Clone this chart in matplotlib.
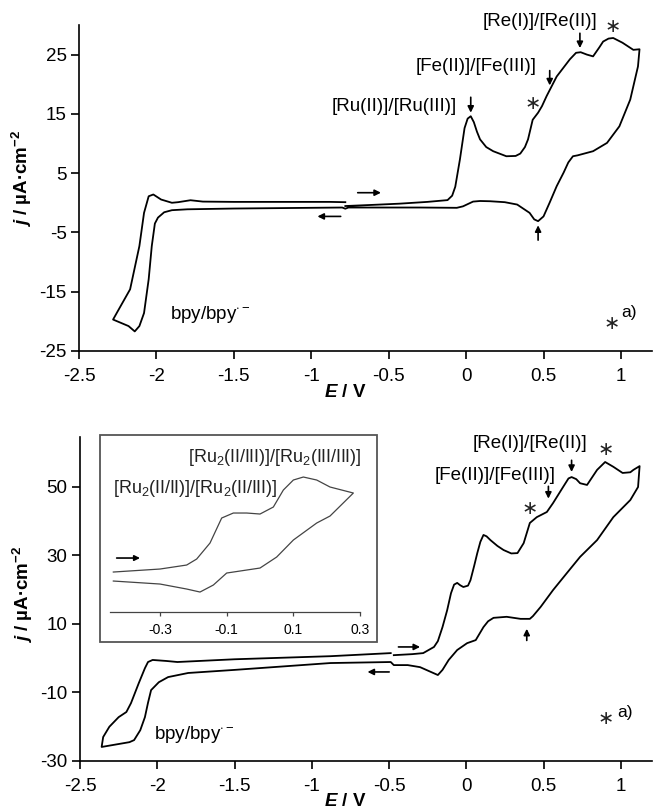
import matplotlib
matplotlib.use('agg')
import matplotlib.pyplot as plt
from matplotlib.patches import Rectangle

plt.rcParams['font.family'] = ['Liberation Sans', 'DejaVu Sans']
plt.rcParams['mathtext.fontset'] = 'custom'
plt.rcParams['mathtext.rm'] = 'Liberation Sans'
plt.rcParams['mathtext.it'] = 'Liberation Sans:italic'
plt.rcParams['mathtext.bf'] = 'Liberation Sans:bold'
plt.rcParams['mathtext.bfit'] = 'Liberation Sans:bold:italic'
plt.rcParams['axes.unicode_minus'] = False
plt.rcParams['lines.solid_joinstyle'] = 'round'

# ---- data: panel a (top), one closed CV loop starting at -0.78 V ----
e_top = [-0.78, -0.6, -0.43, -0.25, -0.12, -0.09, -0.07, -0.04, -0.01, 0.01, 0.03, 0.05, 0.07, 0.09, 0.13,
         0.175, 0.26, 0.32, 0.35, 0.38, 0.40, 0.43, 0.465, 0.49, 0.52, 0.585, 0.67, 0.71, 0.74, 0.78,
         0.82, 0.86, 0.885, 0.92, 0.95, 1.01, 1.08, 1.12,
         1.11, 1.06, 0.99, 0.91, 0.82, 0.72, 0.69, 0.66, 0.63, 0.585, 0.54, 0.50, 0.465, 0.44, 0.41,
         0.33, 0.25, 0.155, 0.09, 0.045, -0.02, -0.06, -0.3, -0.6, -0.76, -0.78, -0.80, -1.0, -1.5,
         -1.8, -1.9, -1.95, -1.99, -2.01, -2.03, -2.05, -2.08, -2.11, -2.14, -2.18, -2.28,
         -2.25, -2.17, -2.11, -2.08, -2.05, -2.02, -1.97, -1.9, -1.86, -1.78, -1.7, -1.5, -1.2,
         -0.88, -0.78]
j_top = [-0.55, -0.35, -0.15, 0.15, 0.45, 1.2, 2.7, 7.3, 12.6, 14.2, 14.6, 13.6, 12.0, 10.7, 9.4,
         8.7, 7.85, 7.9, 8.3, 9.4, 10.7, 14.0, 15.2, 16.3, 18.0, 21.3, 24.2, 25.3, 25.4, 25.0,
         24.7, 26.2, 27.2, 27.7, 27.8, 27.0, 25.8, 25.9,
         23.0, 17.4, 12.9, 10.1, 8.7, 8.0, 7.85, 6.8, 5.1, 2.8, 0.05, -2.3, -3.1, -2.8, -1.7,
         -0.3, 0.1, 0.26, 0.3, 0.2, -0.6, -0.85, -0.8, -0.8, -0.8, -1.0, -0.8, -0.85, -0.97,
         -1.1, -1.25, -1.6, -2.5, -3.5, -7.3, -12.9, -18.6, -20.8, -21.7, -20.8, -19.7,
         -18.3, -14.6, -7.3, -1.7, 1.1, 1.4, 0.55, 0.0, 0.1, 0.43, 0.2, 0.15, 0.15,
         0.15, 0.1]

# ---- data: panel b (bottom), loop starting at -0.47 V ----
e_bot = [-0.47, -0.35, -0.28, -0.21, -0.185, -0.155, -0.125, -0.1, -0.08, -0.06, -0.04, -0.02,
         0.01, 0.026, 0.05, 0.07, 0.09, 0.11, 0.13, 0.155, 0.2, 0.24, 0.29, 0.33, 0.37, 0.41,
         0.455, 0.52, 0.56, 0.625, 0.66, 0.68, 0.71, 0.735, 0.78, 0.845, 0.897, 0.95, 1.01,
         1.06, 1.08, 1.12,
         1.11, 1.06, 0.95, 0.845, 0.735, 0.65, 0.56, 0.48, 0.43, 0.41, 0.35, 0.26, 0.175, 0.14,
         0.11, 0.06, 0.004, -0.06, -0.115, -0.155, -0.185, -0.23, -0.3, -0.38, -0.47, -0.49,
         -0.88, -1.5, -1.8, -1.93, -1.99, -2.04, -2.06, -2.08, -2.11, -2.15, -2.18, -2.27, -2.36,
         -2.35, -2.31, -2.25, -2.2, -2.17, -2.12, -2.08, -2.06, -2.03, -1.94, -1.87, -1.5,
         -0.88, -0.49]
j_bot = [0.9, 1.2, 1.5, 3.3, 5.0, 9.1, 14.0, 19.0, 21.5, 22.0, 21.3, 20.8,
         21.2, 22.8, 27.0, 30.7, 34.0, 36.0, 35.6, 34.5, 32.8, 31.6, 30.6, 30.7, 33.6, 39.5,
         41.2, 42.7, 45.3, 50.0, 52.5, 52.9, 52.3, 51.1, 50.6, 55.0, 57.3, 55.9, 54.1,
         54.3, 55.0, 56.1,
         50.0, 46.2, 41.2, 34.5, 29.6, 24.9, 19.9, 15.0, 12.3, 11.5, 11.5, 12.1, 11.8, 10.8,
         9.1, 5.3, 4.4, 2.4, -0.5, -3.4, -4.9, -4.0, -2.6, -2.0, -2.0, -1.1,
         -1.4, -3.4, -4.3, -5.5, -7.0, -9.3, -13.0, -17.2, -21.0, -23.9, -24.5, -25.2, -25.9,
         -23.0, -20.0, -17.2, -15.7, -13.1, -7.3, -2.9, -1.1, -0.5, -0.8, -1.1, -0.3,
         0.6, 1.5]

# ---- data: inset (arbitrary current units) ----
e_ins = [-0.44, -0.3, -0.22, -0.19, -0.15, -0.115, -0.08, -0.04, 0.0, 0.04, 0.07, 0.1, 0.13,
         0.17, 0.21, 0.28,
         0.21, 0.17, 0.1, 0.05, 0.0, -0.06, -0.1, -0.14, -0.18, -0.22, -0.3, -0.44]
j_ins = [4.0, 4.3, 4.7, 5.3, 6.9, 9.4, 9.9, 9.9, 9.8, 10.5, 12.2, 13.2, 13.5,
         13.2, 12.5, 11.9,
         9.6, 8.9, 7.2, 5.5, 4.4, 4.1, 3.9, 2.7, 2.0, 2.3, 2.8, 3.1]

xticks = [-2.5, -2, -1.5, -1, -0.5, 0, 0.5, 1]
xticklabels = ['-2.5', '-2', '-1.5', '-1', '-0.5', '0', '0.5', '1']
yticks_top = [-25, -15, -5, 5, 15, 25]
yticks_bot = [-30, -10, 10, 30, 50]
ins_ticks = [-0.3, -0.1, 0.1, 0.3]

FS = 13.5
YLABEL = r'$\mathbfit{j}$ / µA·cm$^{\mathbf{-2}}$'
XLABEL = r'$\mathbfit{E}$ / V'


def style_axes(ax, yticks, ylim, ylab_y):
    ax.set_xlim(-2.5, 1.2)
    ax.set_ylim(*ylim)
    for s in ('top', 'right'):
        ax.spines[s].set_visible(False)
    for s in ('left', 'bottom'):
        ax.spines[s].set_linewidth(1.2)
    ax.set_xticks(xticks)
    ax.set_xticklabels(xticklabels)
    ax.set_yticks(yticks)
    ax.tick_params(direction='out', length=6, width=1.2, labelsize=FS)
    ax.tick_params(axis='x', pad=6)
    ax.tick_params(axis='y', pad=3)
    ax.set_xlabel(XLABEL, fontsize=FS, fontweight='bold')
    ax.set_ylabel(YLABEL, fontsize=FS, fontweight='bold')
    ax.xaxis.set_label_coords(0.464, -0.1)
    ax.yaxis.set_label_coords(-0.078, ylab_y)


def arrow(ax, x0, y0, x1, y1, ms=9):
    ax.annotate('', xy=(x1, y1), xytext=(x0, y0),
                arrowprops=dict(arrowstyle='-|>', color='k', lw=1.2,
                                mutation_scale=ms, shrinkA=0, shrinkB=0))


def star(ax, x, y):
    ax.text(x, y, '∗', fontsize=14, family='DejaVu Sans', ha='center', va='center',
            color='#222222')


fig = plt.figure(figsize=(6.54, 8.10), dpi=100)

# top panel
ax1 = fig.add_axes([0.1208, 0.5667, 0.876, 0.4025])
ax1.plot(e_top, j_top, color='k', lw=1.3)
style_axes(ax1, yticks_top, (-25, 30), 0.53)
ax1.text(-0.06, 16.2, '[Ru(II)]/[Ru(III)]', fontsize=FS, ha='right', va='center')
arrow(ax1, 0.03, 17.8, 0.03, 15.2)
ax1.text(0.458, 23.0, '[Fe(II)]/[Fe(III)]', fontsize=FS, ha='right', va='center')
arrow(ax1, 0.54, 22.3, 0.54, 19.8)
ax1.text(0.845, 30.6, '[Re(I)]/[Re(II)]', fontsize=FS, ha='right', va='center')
arrow(ax1, 0.735, 28.6, 0.735, 26.1)
star(ax1, 0.95, 29.8)
star(ax1, 0.43, 16.7)
arrow(ax1, 0.465, -6.3, 0.465, -3.8)
arrow(ax1, -0.70, 1.7, -0.55, 1.7)
arrow(ax1, -0.81, -2.3, -0.96, -2.3)
ax1.text(-1.91, -18.8, r'bpy/bpy$^{\cdot-}$', fontsize=FS, ha='left', va='center')
star(ax1, 0.94, -20.4)
ax1.text(1.0, -18.5, 'a)', fontsize=FS - 1, ha='left', va='center')

# bottom panel
ax2 = fig.add_axes([0.1223, 0.0605, 0.8746, 0.4])
ax2.plot(e_bot, j_bot, color='k', lw=1.3)
style_axes(ax2, yticks_bot, (-30, 64.6), 0.515)
ax2.text(0.78, 62.8, '[Re(I)]/[Re(II)]', fontsize=FS, ha='right', va='center')
arrow(ax2, 0.68, 57.8, 0.68, 54.4)
ax2.text(0.574, 53.5, '[Fe(II)]/[Fe(III)]', fontsize=FS, ha='right', va='center')
arrow(ax2, 0.53, 50.2, 0.53, 46.6)
star(ax2, 0.9, 61.0)
star(ax2, 0.41, 43.8)
arrow(ax2, 0.39, 5.2, 0.39, 8.6)
arrow(ax2, -0.44, 3.3, -0.30, 3.3)
arrow(ax2, -0.50, -4.0, -0.64, -4.0)
ax2.text(-2.02, -22.4, r'bpy/bpy$^{\cdot-}$', fontsize=FS, ha='left', va='center')
star(ax2, 0.9, -17.6)
ax2.text(0.974, -15.7, 'a)', fontsize=FS - 1, ha='left', va='center')

# inset
fig.patches.append(Rectangle((0.1529, 0.2074), 0.4235, 0.2556, transform=fig.transFigure,
                             fill=False, edgecolor='#555555', lw=1.3))
axi = fig.add_axes([0.1682, 0.2444, 0.3823, 0.2062])
axi.patch.set_alpha(0)
axi.plot(e_ins, j_ins, color='#444444', lw=0.9)
axi.set_xlim(-0.45, 0.3)
axi.set_ylim(0, 16.7)
for s in ('top', 'right', 'left'):
    axi.spines[s].set_visible(False)
axi.spines['bottom'].set_color('#444444')
axi.spines['bottom'].set_linewidth(0.9)
axi.set_yticks([])
axi.set_xticks(ins_ticks)
axi.set_xticklabels(['-0.3', '-0.1', '0.1', '0.3'])
axi.tick_params(axis='x', direction='out', length=3, width=0.9, color='#444444',
                labelsize=10, pad=5)
axi.text(0.305, 15.5, r'[Ru$_2$(II/III)]/[Ru$_2$(III/III)]', fontsize=13,
         ha='right', va='center', color='#222222')
axi.text(-0.44, 12.4, r'[Ru$_2$(II/II)]/[Ru$_2$(II/III)]', fontsize=13,
         ha='left', va='center', color='#222222')
arrow(axi, -0.43, 5.4, -0.36, 5.4, ms=8)

fig.savefig('out.png', dpi=100)
